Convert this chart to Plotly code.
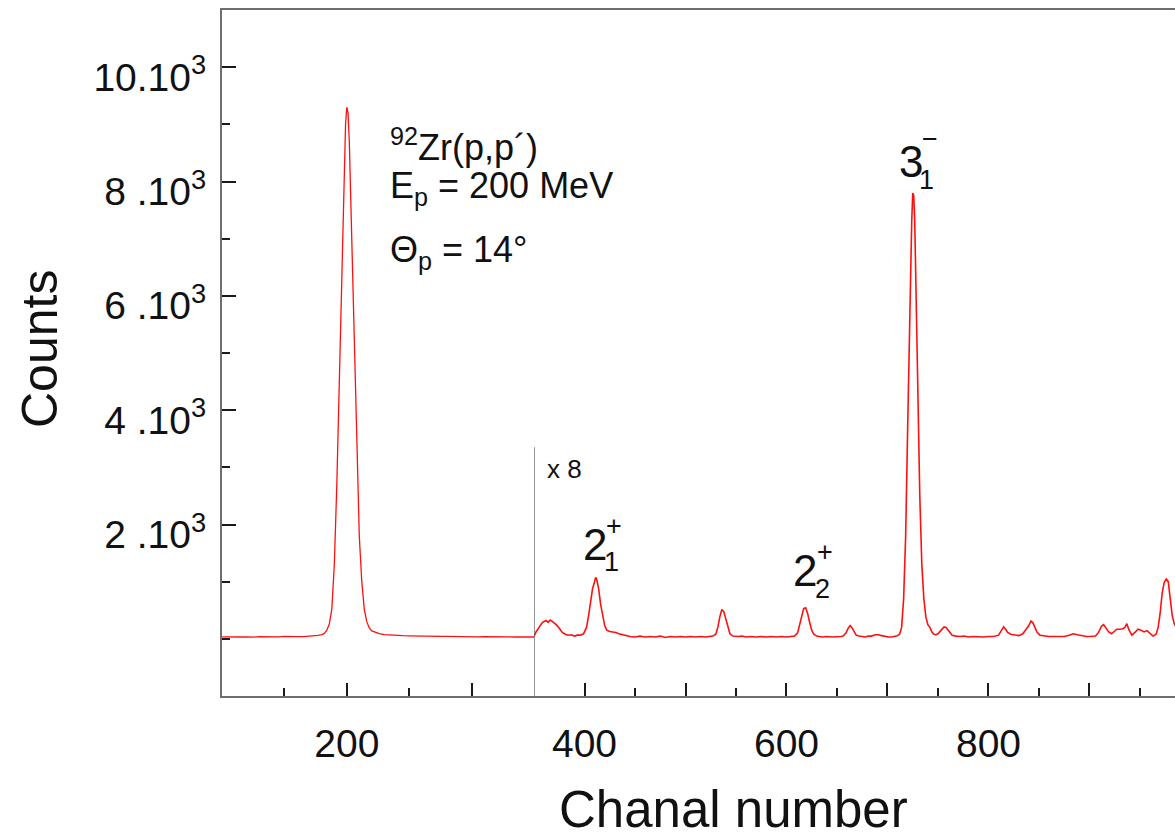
import plotly.graph_objects as go

# ---------------- data ----------------
# left part of the spectrum (channels 100-350), counts as displayed
LEFT_CH = [100, 105, 110, 115, 120, 125, 130, 135, 140, 145, 150, 155, 160, 165, 170, 174, 177, 180,
           182, 184, 186, 188, 190, 192, 194, 196, 198, 199, 200, 201, 202, 204, 206, 208, 210, 212,
           214, 216, 218, 220, 223, 226, 230, 235, 240, 245, 250, 255, 260, 265, 270, 275, 280, 285,
           290, 295, 300, 305, 310, 315, 320, 325, 330, 335, 340, 345, 350]
LEFT_COUNTS = [35, 30, 38, 32, 36, 30, 40, 34, 38, 33, 42, 36, 40, 38, 45, 50, 60, 75,
               95, 150, 260, 520, 1300, 2700, 4400, 6400, 8300, 9000, 9300, 9200, 8700, 7000, 5000, 3100, 1800, 1000,
               520, 300, 190, 140, 110, 90, 75, 65, 60, 55, 52, 48, 50, 45, 46, 42, 44, 40,
               42, 38, 40, 36, 38, 34, 36, 33, 35, 32, 34, 30, 32]

# right part of the spectrum (channels 350-986), raw counts, displayed x 8
SCALE_FACTOR = 8
RIGHT_CH = [350, 352, 355, 358, 360, 362, 364, 366, 368, 370, 372, 375, 378, 381, 384, 387, 390, 393, 396, 399,
            402, 404, 406, 408, 410, 411, 412, 414, 416, 418, 420, 422, 425, 428, 431, 434, 437, 440, 445, 450,
            455, 460, 465, 470, 475, 480, 485, 490, 495, 500, 505, 510, 515, 520, 524, 527, 530, 532, 534, 536,
            538, 540, 542, 544, 547, 552, 556, 560, 565, 570, 575, 580, 585, 590, 595, 600, 604, 608, 611, 613,
            615, 617, 619, 621, 623, 625, 627, 630, 635, 640, 645, 650, 654, 656, 659, 661, 663, 665, 667, 669,
            672, 675, 678, 681, 684, 688, 691, 694, 698, 701, 704, 707, 709, 712, 714, 716, 718, 720, 722, 724,
            725, 726, 727, 728, 730, 732, 734, 736, 738, 740, 742, 744, 746, 748, 750, 752, 754, 756, 758, 760,
            762, 764, 768, 772, 776, 780, 785, 790, 795, 800, 805, 810, 813, 815, 817, 819, 822, 826, 830, 834,
            837, 840, 842, 844, 846, 848, 851, 855, 860, 865, 870, 875, 880, 884, 888, 893, 897, 900, 903, 906,
            909, 912, 914, 916, 919, 922, 925, 927, 930, 933, 935, 937, 939, 942, 945, 948, 951, 954, 957, 960,
            963, 966, 968, 970, 972, 974, 976, 978, 980, 982, 984, 986]
RIGHT_COUNTS = [5, 15, 25, 35, 38, 40, 36, 41, 38, 35, 31, 23, 14, 10, 8, 9, 6, 8, 8, 11,
                25, 50, 81, 110, 125, 134, 131, 110, 75, 48, 29, 19, 16, 15, 14, 11, 9, 8, 5, 4,
                6, 4, 5, 4, 6, 3, 5, 4, 5, 4, 5, 4, 5, 4, 6, 6, 10, 25, 48, 64,
                59, 41, 23, 11, 6, 5, 6, 4, 5, 4, 5, 4, 5, 4, 5, 4, 5, 6, 13, 31,
                53, 66, 68, 55, 35, 19, 10, 6, 4, 5, 4, 4, 5, 6, 13, 23, 29, 24, 14, 8,
                6, 5, 4, 6, 6, 9, 9, 7, 5, 4, 4, 5, 6, 10, 25, 88, 225, 463, 725, 913,
                975, 969, 913, 788, 538, 313, 163, 88, 48, 31, 25, 15, 10, 9, 11, 16, 23, 26, 25, 20,
                13, 8, 6, 5, 6, 4, 5, 4, 4, 5, 5, 8, 18, 26, 21, 14, 10, 8, 7, 11,
                20, 29, 39, 35, 25, 15, 8, 6, 5, 5, 5, 5, 8, 11, 9, 6, 5, 5, 5, 6,
                14, 28, 31, 25, 15, 11, 16, 21, 21, 22, 25, 33, 20, 8, 14, 21, 19, 15, 18, 11,
                6, 10, 25, 56, 100, 123, 131, 125, 88, 50, 33, 25]

SPLIT_CHANNEL = 350          # where the x 8 part starts
SPLIT_MARK_TOP = 3350        # top of the vertical separator line
X_RANGE_LEFT = [100, 350]
X_RANGE_RIGHT = [350, 984.7]
Y_RANGE = [-1000, 11000]
Y_TICKS = [2000, 4000, 6000, 8000, 10000]
Y_TICK_TEXT = ["2 .10<sup>3</sup>", "4 .10<sup>3</sup>", "6 .10<sup>3</sup>",
               "8 .10<sup>3</sup>", "10.10<sup>3</sup>"]
XL_TICKS = [200, 300]
XL_TICK_TEXT = ["200", " "]
XR_TICKS = [400, 500, 600, 700, 800, 900]
XR_TICK_TEXT = ["400", " ", "600", " ", "800", " "]

right_display = [v * SCALE_FACTOR for v in RIGHT_COUNTS]

FONT = "Liberation Sans, Arial, Helvetica, sans-serif"
RED = "#ff1010"
AX_LINE = "#6e6e6e"
TICK_C = "#1a1a1a"

fig = go.Figure()
fig.add_trace(go.Scatter(x=LEFT_CH, y=LEFT_COUNTS, mode="lines", xaxis="x", yaxis="y",
                         line=dict(color=RED, width=1.3), showlegend=False, hoverinfo="skip"))
fig.add_trace(go.Scatter(x=RIGHT_CH, y=right_display, mode="lines", xaxis="x2", yaxis="y",
                         line=dict(color=RED, width=1.6), showlegend=False, hoverinfo="skip"))

split = 0.3274
common_x = dict(showgrid=False, zeroline=False, showline=True, linecolor=AX_LINE, linewidth=2,
                mirror=True, ticks="inside", tickcolor=TICK_C, tickwidth=2, ticklen=13,
                tickfont=dict(family=FONT, size=39, color="#111"), ticklabelstandoff=12,
                minor=dict(ticks="inside", ticklen=8, tickwidth=2, tickcolor=TICK_C, dtick=50, tick0=0,
                           showgrid=False))
top_x = dict(showgrid=False, zeroline=False, showline=False, ticks="inside", ticklen=3,
             tickwidth=3, tickcolor=TICK_C, showticklabels=False, side="top", anchor="y",
             tickmode="linear", tick0=0, dtick=50)

fig.update_layout(
    width=1175, height=837,
    margin=dict(l=222, r=0, t=10, b=141),
    paper_bgcolor="white", plot_bgcolor="white",
    xaxis=dict(domain=[0, split], range=X_RANGE_LEFT, anchor="y", tickmode="array",
               tickvals=XL_TICKS, ticktext=XL_TICK_TEXT, **common_x),
    xaxis2=dict(domain=[split, 1], range=X_RANGE_RIGHT, anchor="y", tickmode="array",
                tickvals=XR_TICKS, ticktext=XR_TICK_TEXT, **common_x),
    xaxis3=dict(overlaying="x", range=X_RANGE_LEFT, **top_x),
    xaxis4=dict(overlaying="x2", range=X_RANGE_RIGHT, **top_x),
    yaxis=dict(range=Y_RANGE, showgrid=False, zeroline=False, showline=True, linecolor=AX_LINE,
               linewidth=2, ticks="inside", tickcolor=TICK_C, tickwidth=2, ticklen=14,
               tickmode="array", tickvals=Y_TICKS, ticktext=Y_TICK_TEXT,
               tickfont=dict(family=FONT, size=39, color="#111"), ticklabelstandoff=6,
               ticklabelshift=10,
               minor=dict(ticks="inside", ticklen=8, tickwidth=2, tickcolor=TICK_C,
                          tickvals=[-1000, 0, 1000, 3000, 5000, 7000, 9000], showgrid=False)),
)

# separator line for the x 8 section
fig.add_shape(type="line", xref="x2", yref="y", x0=SPLIT_CHANNEL, x1=SPLIT_CHANNEL,
              y0=Y_RANGE[0], y1=SPLIT_MARK_TOP, line=dict(color="#555", width=1.2))

ann = []
def txt(text, x, y, size, xref="paper", yref="paper", xanchor="center", yanchor="middle", angle=0):
    ann.append(dict(text=text, x=x, y=y, xref=xref, yref=yref, xanchor=xanchor, yanchor=yanchor,
                    showarrow=False, textangle=angle, font=dict(family=FONT, size=size, color="#111")))

# axis titles
txt("Chanal number", 0.537, -0.166, 51)
txt("Counts", -0.191, 0.5058, 50, angle=-90)

# reaction info
txt("<sup>92</sup>Zr(p,p´)", 0.1742, 0.8025, 36, xanchor="left")
txt("E<sub>p</sub> = 200 MeV", 0.1742, 0.7405, 36, xanchor="left")
txt("Θ<sub>p</sub> = 14°", 0.1742, 0.6472, 36, xanchor="left")

# scale marker
txt("x 8", 360.9, 2974, 26, xref="x2", yref="y", xanchor="left")

# level labels
txt("2", 409.9, 1644, 44, xref="x2", yref="y")
txt("1", 427.2, 1347, 27, xref="x2", yref="y")
txt("+", 429.2, 1974, 27, xref="x2", yref="y")
txt("2", 618.8, 1189, 44, xref="x2", yref="y")
txt("2", 635.6, 875, 27, xref="x2", yref="y")
txt("+", 638.1, 1519, 27, xref="x2", yref="y")
txt("3", 722.8, 8344, 44, xref="x2", yref="y")
txt("1", 738.6, 8029, 27, xref="x2", yref="y")
txt("−", 742.0, 8743, 27, xref="x2", yref="y")

fig.update_layout(annotations=ann)

fig.write_html("out.html")
